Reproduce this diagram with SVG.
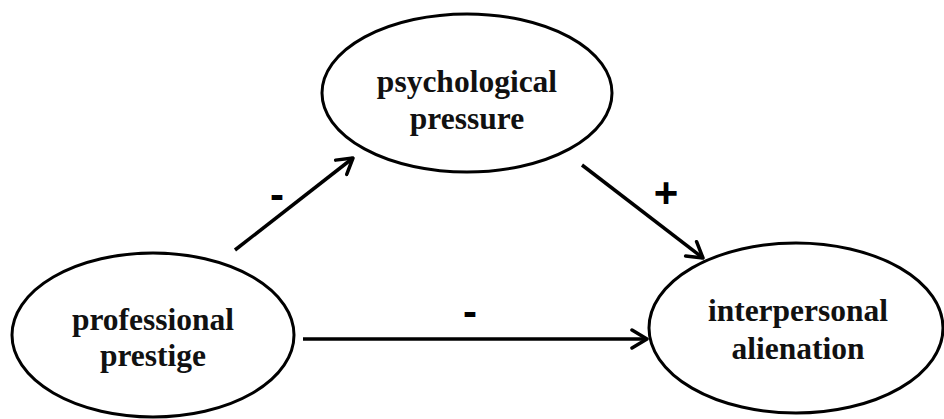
<svg xmlns="http://www.w3.org/2000/svg" width="944" height="419" viewBox="0 0 944 419">
<style>
.node{fill:#fff;stroke:#000;stroke-width:3}
.lbl{font-family:"Liberation Serif","Times New Roman",serif;font-weight:bold;font-size:31.5px;fill:#111;text-anchor:middle}
.edge{stroke:#000;stroke-width:3.5;fill:none}
.sign{font-family:"Liberation Sans",Arial,sans-serif;font-weight:bold;font-size:42px;fill:#000;text-anchor:middle}
</style>
<defs>
<marker id="arr" viewBox="0 0 22 22" refX="20" refY="11" markerWidth="22" markerHeight="22" markerUnits="userSpaceOnUse" orient="auto">
<path d="M5,2 L20,11 L5,20" fill="none" stroke="#000" stroke-width="3.5" stroke-linecap="round" stroke-linejoin="round"/>
</marker>
</defs>
<rect width="944" height="419" fill="#fff"/>
<g id="professional-prestige">
<ellipse class="node" cx="153" cy="335" rx="141" ry="82"/>
<text class="lbl" x="153" y="330">professional</text>
<text class="lbl" x="153" y="366">prestige</text>
</g>
<g id="psychological-pressure">
<ellipse class="node" cx="467" cy="93" rx="145" ry="79"/>
<text class="lbl" x="467" y="92">psychological</text>
<text class="lbl" x="467" y="129">pressure</text>
</g>
<g id="interpersonal-alienation">
<ellipse class="node" cx="796" cy="328" rx="147" ry="85"/>
<text class="lbl" x="798" y="321">interpersonal</text>
<text class="lbl" x="798" y="359">alienation</text>
</g>
<g id="connectors">
<line class="edge" x1="235" y1="250" x2="353" y2="158" marker-end="url(#arr)"/>
<line class="edge" x1="582" y1="165" x2="703" y2="258" marker-end="url(#arr)"/>
<line class="edge" x1="303" y1="339" x2="647" y2="339" marker-end="url(#arr)"/>
<text class="sign" x="277" y="209">-</text>
<text class="sign" x="666" y="207">+</text>
<text class="sign" x="470" y="326">-</text>
</g>
</svg>
